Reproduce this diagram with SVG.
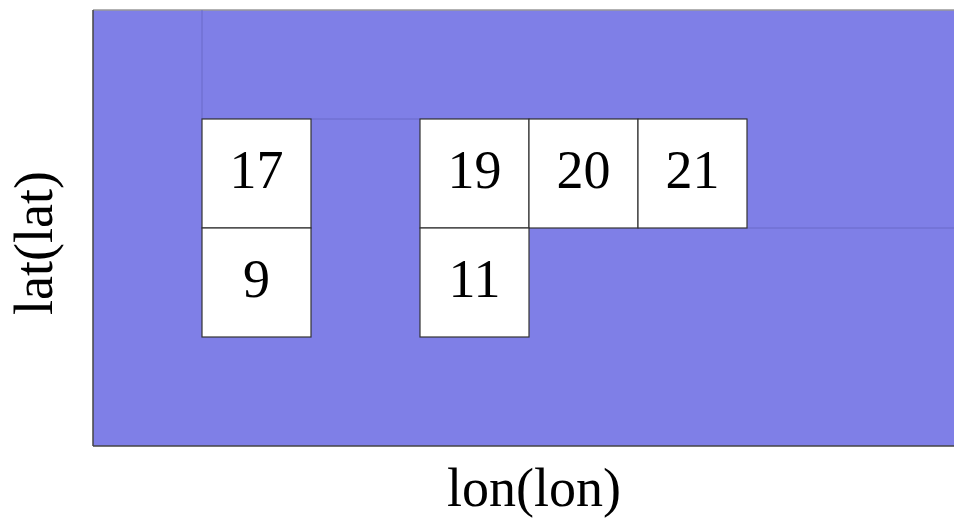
<svg xmlns="http://www.w3.org/2000/svg" width="954" height="522" viewBox="0 0 954 522">
<style>
.bg{fill:#7f7fe7;}
.grid{stroke:#6a6ac8;stroke-width:1;fill:none;}
.cell{fill:#ffffff;stroke:#333333;stroke-width:1.2;}
.num{font-family:"Liberation Serif",serif;font-size:54px;fill:#000;text-anchor:middle;}
.axis{font-family:"Liberation Serif",serif;font-size:54px;fill:#000;text-anchor:middle;}
</style>
<rect class="bg" x="93" y="10" width="861" height="436"/>
<line x1="93" y1="10" x2="954" y2="10" stroke="#999999" stroke-width="1.5"/>
<line x1="93" y1="10" x2="93" y2="446" stroke="#444444" stroke-width="1.5"/>
<line x1="93" y1="446" x2="954" y2="446" stroke="#444444" stroke-width="1.5"/>
<g id="connectors">
<line class="grid" x1="202" y1="10" x2="202" y2="119"/>
<line class="grid" x1="202" y1="119" x2="747" y2="119"/>
<line class="grid" x1="747" y1="228" x2="954" y2="228"/>
</g>
<g id="n17"><rect class="cell" x="202" y="119" width="109" height="109"/><text class="num" x="256.5" y="188">17</text></g>
<g id="n9"><rect class="cell" x="202" y="228" width="109" height="109"/><text class="num" x="256.5" y="297">9</text></g>
<g id="n19"><rect class="cell" x="420" y="119" width="109" height="109"/><text class="num" x="474.5" y="188">19</text></g>
<g id="n20"><rect class="cell" x="529" y="119" width="109" height="109"/><text class="num" x="583.5" y="188">20</text></g>
<g id="n21"><rect class="cell" x="638" y="119" width="109" height="109"/><text class="num" x="692.5" y="188">21</text></g>
<g id="n11"><rect class="cell" x="420" y="228" width="109" height="109"/><text class="num" x="474.5" y="297">11</text></g>
<text class="axis" x="534" y="506">lon(lon)</text>
<text class="axis" transform="translate(52,243) rotate(-90)" x="0" y="0">lat(lat)</text>
</svg>
